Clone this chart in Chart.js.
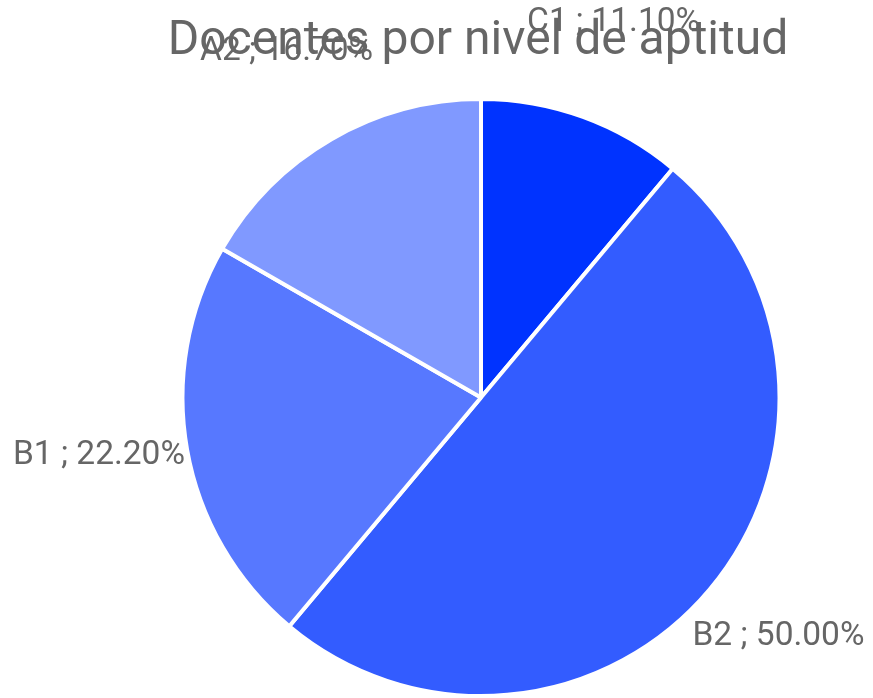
<!DOCTYPE html>
<html>
<head>
<meta charset="utf-8">
<script src="https://cdn.jsdelivr.net/npm/chart.js@4/dist/chart.umd.min.js"></script>
<style>
html,body{margin:0;padding:0;background:#fff;}
canvas{display:block;}
</style>
</head>
<body>
<canvas id="c" width="873" height="698"></canvas>
<script>
const titleText = "Docentes por nivel de aptitud";
const categories = ["C1", "B2", "B1", "A2"];
const values = [11.1, 50.0, 22.2, 16.7];
const colors = ["#0033ff", "#335cff", "#5778ff", "#8099ff"];

const labelPlugin = {
  id: 'outLabels',
  afterDraw(chart) {
    const ctx = chart.ctx;
    ctx.save();
    ctx.fillStyle = '#666666';
    ctx.textAlign = 'center';
    ctx.textBaseline = 'middle';
    // title
    ctx.font = '48px Roboto';
    ctx.fillText(titleText, 478, 42);
    // slice labels
    ctx.font = '33.5px Roboto';
    const meta = chart.getDatasetMeta(0);
    meta.data.forEach((arc, i) => {
      const p = arc.getProps(['x','y','startAngle','endAngle','outerRadius'], true);
      const a = (p.startAngle + p.endAngle) / 2;
      const r = p.outerRadius * 1.30;
      const x = p.x + Math.cos(a) * r;
      const y = p.y + Math.sin(a) * r - 10;
      ctx.fillText(categories[i] + ' ; ' + values[i].toFixed(2) + '%', x, y);
    });
    ctx.restore();
  }
};

new Chart(document.getElementById('c'), {
  type: 'pie',
  data: {
    labels: categories,
    datasets: [{
      data: values,
      backgroundColor: colors,
      borderColor: '#ffffff',
      borderWidth: 4
    }]
  },
  options: {
    responsive: false,
    animation: false,
    layout: { padding: { left: 180, right: 91, top: 97, bottom: 0 } },
    plugins: {
      legend: { display: false },
      title: { display: false },
      tooltip: { enabled: false }
    }
  },
  plugins: [labelPlugin]
});
</script>
</body>
</html>
